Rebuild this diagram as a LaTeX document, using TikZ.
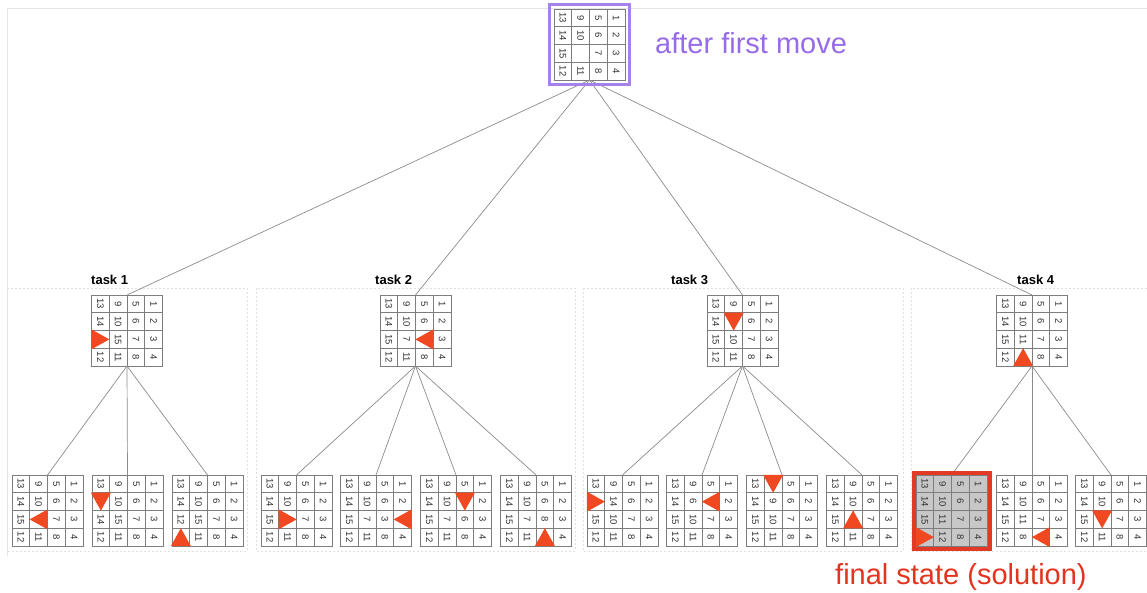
\documentclass[tikz,border=0pt]{standalone}
\usepackage{fontspec}
\setmainfont{Liberation Sans}
\usetikzlibrary{calc}
\definecolor{trired}{RGB}{240,72,32}
\definecolor{redtxt}{RGB}{226,52,30}
\definecolor{redframe}{RGB}{226,58,36}
\definecolor{purp}{RGB}{150,108,232}
\definecolor{purpframe}{RGB}{165,130,235}
\definecolor{gline}{RGB}{125,125,125}
\newcommand\cellsz{17.75}
\tikzset{
  gridbox/.style={draw=gline, line width=0.8pt, minimum width=71pt, minimum height=71pt, inner sep=0pt, outer sep=0pt},
  gl/.style={draw=gline, line width=0.7pt},
  num/.style={rotate=-90, inner sep=0pt, font=\fontsize{9.5}{10}\selectfont, text=black!80},
  edge/.style={draw=black!45, line width=0.7pt},
  groupbox/.style={draw=black!12, dash pattern=on 2pt off 2pt, line width=0.6pt},
  tasklab/.style={anchor=base west, inner sep=0pt, font=\bfseries\fontsize{13}{13}\selectfont},
  biglab/.style={anchor=base west, inner sep=0pt, font=\fontsize{29}{30}\selectfont},
  hl/.style={fill=black!22}
}
\newcommand\pgrid[4][]{%
  \node[gridbox,#1] (#2) at (#3) {};
  \foreach \k in {1,2,3}{%
    \draw[gl] ($(#2.north west)+(\k*\cellsz,0)$) -- ($(#2.south west)+(\k*\cellsz,0)$);
    \draw[gl] ($(#2.north west)+(0,\k*\cellsz)$) -- ($(#2.north east)+(0,\k*\cellsz)$);
  }%
  \foreach \v [count=\i from 0] in {#4}{%
    \pgfmathtruncatemacro\cc{div(\i,4)}%
    \pgfmathtruncatemacro\rr{mod(\i,4)}%
    \node[num] at ($(#2.north west)+({(\cc+0.5)*\cellsz},{(\rr+0.5)*\cellsz})$) {\v};
  }%
}
\newcommand\ptri[4]{%
  \coordinate (tmp) at ($(#1.north west)+({(#2-0.5)*\cellsz},{(#3-0.5)*\cellsz})$);
  \ifcase#4
    \fill[trired] (tmp) ++(-9,-10) -- ++(18,10) -- ++(-18,10) -- cycle;
  \or
    \fill[trired] (tmp) ++(9,-10) -- ++(-18,10) -- ++(18,10) -- cycle;
  \or
    \fill[trired] (tmp) ++(-10,-9) -- ++(10,18) -- ++(10,-18) -- cycle;
  \or
    \fill[trired] (tmp) ++(-10,9) -- ++(10,-18) -- ++(10,18) -- cycle;
  \fi
}
\begin{document}
\begin{tikzpicture}[x=1pt,y=-1pt]
\useasboundingbox (0,0) rectangle (1147,592);
\fill[white] (0,0) rectangle (1147,592);
\clip (0,0) rectangle (1147,592);
% faint outer frame
\draw[black!10, line width=0.8pt] (1150,8) -- (7,8) -- (7,556);
% group boxes
\draw[groupbox] (7,288) rectangle (247,551);
\draw[groupbox] (256,288) rectangle (575,551);
\draw[groupbox] (583,288) rectangle (903,551);
\draw[groupbox] (911,288) rectangle (1152,551);
% grids
\pgrid{g0}{589.5,44.5}{13,14,15,12,9,10,{},11,5,6,7,8,1,2,3,4}
\pgrid{t1}{127,330.5}{13,14,{},12,9,10,15,11,5,6,7,8,1,2,3,4}
\pgrid{t2}{415.5,330.5}{13,14,15,12,9,10,7,11,5,6,{},8,1,2,3,4}
\pgrid{t3}{742.5,330.5}{13,14,15,12,9,{},10,11,5,6,7,8,1,2,3,4}
\pgrid{t4}{1032,330.5}{13,14,15,12,9,10,11,{},5,6,7,8,1,2,3,4}
% level 2
\pgrid{t1a}{47.5,510.5}{13,14,15,12,9,10,{},11,5,6,7,8,1,2,3,4}
\pgrid{t1b}{127.5,510.5}{13,{},14,12,9,10,15,11,5,6,7,8,1,2,3,4}
\pgrid{t1c}{207.5,510.5}{13,14,12,{},9,10,15,11,5,6,7,8,1,2,3,4}
\pgrid{t2a}{296.5,510.5}{13,14,15,12,9,10,{},11,5,6,7,8,1,2,3,4}
\pgrid{t2b}{376,510.5}{13,14,15,12,9,10,7,11,5,6,3,8,1,2,{},4}
\pgrid{t2c}{456,510.5}{13,14,15,12,9,10,7,11,5,{},6,8,1,2,3,4}
\pgrid{t2d}{536,510.5}{13,14,15,12,9,10,7,11,5,6,8,{},1,2,3,4}
\pgrid{t3a}{622.5,510.5}{13,{},15,12,9,14,10,11,5,6,7,8,1,2,3,4}
\pgrid{t3b}{702,510.5}{13,14,15,12,9,6,10,11,5,{},7,8,1,2,3,4}
\pgrid{t3c}{782,510.5}{13,14,15,12,{},9,10,11,5,6,7,8,1,2,3,4}
\pgrid{t3d}{862,510.5}{13,14,15,12,9,10,{},11,5,6,7,8,1,2,3,4}
\pgrid[hl]{t4a}{951.5,510.5}{13,14,15,{},9,10,11,12,5,6,7,8,1,2,3,4}
\pgrid{t4b}{1032,510.5}{13,14,15,12,9,10,11,8,5,6,7,{},1,2,3,4}
\pgrid{t4c}{1111,510.5}{13,14,15,12,9,10,{},11,5,6,7,8,1,2,3,4}
% connectors
\foreach \t in {t1,t2,t3,t4}{\draw[edge] (g0.south) -- (\t.north);}
\foreach \c in {t1a,t1b,t1c}{\draw[edge] (t1.south) -- (\c.north);}
\foreach \c in {t2a,t2b,t2c,t2d}{\draw[edge] (t2.south) -- (\c.north);}
\foreach \c in {t3a,t3b,t3c,t3d}{\draw[edge] (t3.south) -- (\c.north);}
\foreach \c in {t4a,t4b,t4c}{\draw[edge] (t4.south) -- (\c.north);}
% frames
\draw[purpframe, line width=3.5pt] ($(g0.north west)+(-4.5,-4.5)$) rectangle ($(g0.south east)+(4.5,4.5)$);
\draw[redframe, line width=4pt] ($(t4a.north west)+(-2.5,-2.5)$) rectangle ($(t4a.south east)+(2.5,2.5)$);
% triangles
\ptri{t1}{1}{3}{0}
\ptri{t2}{3}{3}{1}
\ptri{t3}{2}{2}{2}
\ptri{t4}{2}{4}{3}
\ptri{t1a}{2}{3}{1}
\ptri{t1b}{1}{2}{2}
\ptri{t1c}{1}{4}{3}
\ptri{t2a}{2}{3}{0}
\ptri{t2b}{4}{3}{1}
\ptri{t2c}{3}{2}{2}
\ptri{t2d}{3}{4}{3}
\ptri{t3a}{1}{2}{0}
\ptri{t3b}{3}{2}{1}
\ptri{t3c}{2}{1}{2}
\ptri{t3d}{2}{3}{3}
\ptri{t4a}{1}{4}{0}
\ptri{t4b}{3}{4}{1}
\ptri{t4c}{2}{3}{2}
% labels
\node[tasklab] (l1) at (91,284) {task 1};
\node[tasklab] (l2) at (375,284) {task 2};
\node[tasklab] (l3) at (671,284) {task 3};
\node[tasklab] (l4) at (1017,284) {task 4};
\node[biglab, text=purp] (lab0) at (655,53) {after first move};
\node[biglab, text=redtxt] (lab1) at (835,584) {final state (solution)};
\end{tikzpicture}
\end{document}
